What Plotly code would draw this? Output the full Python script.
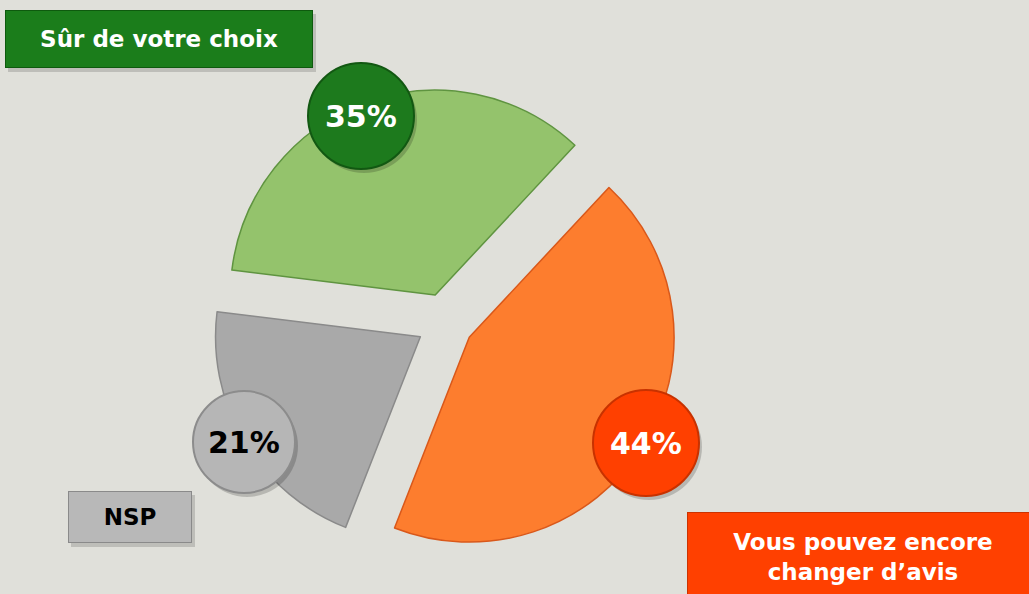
import plotly.graph_objects as go

# ---- data ----
categories = ["Sûr de votre choix", "Vous pouvez encore<br>changer d’avis", "NSP"]
values = [35, 44, 21]

# ---- styles ----
W, H = 1029, 594
BG = "#e0e0da"
slice_colors = ["#94c36c", "#fd7d2e", "#a9a9a9"]
slice_lines = ["#5f9440", "#d9581a", "#8a8a8a"]
badge_fill = ["#1d7a1d", "#ff4000", "#b6b6b6"]
badge_edge = ["#125812", "#c83200", "#8c8c8c"]
badge_text = ["white", "white", "black"]
box_fill = ["#1b7d1b", "#ff4000", "#b8b8b8"]
box_edge = ["#0e5a0e", "#cc3300", "#8a8a8a"]
box_text = ["white", "white", "black"]
FONT = "DejaVu Sans"

# layout positions (pixels, from top-left)
badge_pos = [(361, 116), (646, 443), (244, 442)]
badge_r = [53, 53, 51]
box_geom = [(5, 10, 306, 56), (687, 512, 350, 88), (68, 491, 122, 50)]  # x, y, w, h
box_font = [23, 23, 23]

fig = go.Figure()
fig.add_trace(go.Pie(
    labels=categories,
    values=values,
    sort=False,
    direction="clockwise",
    rotation=-83,
    pull=[0.14, 0.14, 0.14],
    textinfo="none",
    hoverinfo="label+percent",
    marker=dict(colors=slice_colors, line=dict(color=slice_lines, width=1.5)),
    domain=dict(x=[0.2055, 0.6594], y=[0.0648, 0.851]),
    showlegend=False,
))

shapes = []
annotations = []

# box shadows
for i in range(len(categories)):
    x, y, w, h = box_geom[i]
    shapes.append(dict(type="rect", layer="above", xref="paper", yref="paper",
                       x0=(x + 3) / W, x1=(x + w + 5) / W,
                       y0=1 - (y + 4) / H, y1=1 - (y + h + 6) / H,
                       fillcolor="rgba(0,0,0,0.15)", line=dict(width=0)))

for i, v in enumerate(values):
    cx, cy = badge_pos[i]
    r = badge_r[i]
    shapes.append(dict(type="circle", layer="above", xref="paper", yref="paper",
                       xsizemode="pixel", ysizemode="pixel",
                       xanchor=(cx + 3) / W, yanchor=1 - (cy + 4) / H,
                       x0=-r, x1=r, y0=-r, y1=r,
                       fillcolor="rgba(0,0,0,0.18)", line=dict(width=0)))
    shapes.append(dict(type="circle", layer="above", xref="paper", yref="paper",
                       xsizemode="pixel", ysizemode="pixel",
                       xanchor=cx / W, yanchor=1 - cy / H,
                       x0=-r, x1=r, y0=-r, y1=r,
                       fillcolor=badge_fill[i], line=dict(color=badge_edge[i], width=2)))
    annotations.append(dict(x=cx / W, y=1 - cy / H, xref="paper", yref="paper",
                            text=f"{v}%", showarrow=False, xanchor="center", yanchor="middle",
                            font=dict(family=FONT, size=30, color=badge_text[i], weight="bold")))

for i, cat in enumerate(categories):
    x, y, w, h = box_geom[i]
    annotations.append(dict(x=x / W, y=1 - y / H, xref="paper", yref="paper",
                            xanchor="left", yanchor="top",
                            width=w, height=h, align="center", valign="middle",
                            text=cat, showarrow=False,
                            bgcolor=box_fill[i], bordercolor=box_edge[i], borderwidth=1, borderpad=0,
                            font=dict(family=FONT, size=box_font[i], color=box_text[i], weight="bold")))

fig.update_layout(
    width=W, height=H,
    margin=dict(l=0, r=0, t=0, b=0),
    paper_bgcolor=BG, plot_bgcolor=BG,
    shapes=shapes, annotations=annotations,
    showlegend=False,
)

fig.write_html("out.html",
               config={"displayModeBar": False},
               post_script="document.body.style.margin='0';document.body.style.background='%s';" % BG)
